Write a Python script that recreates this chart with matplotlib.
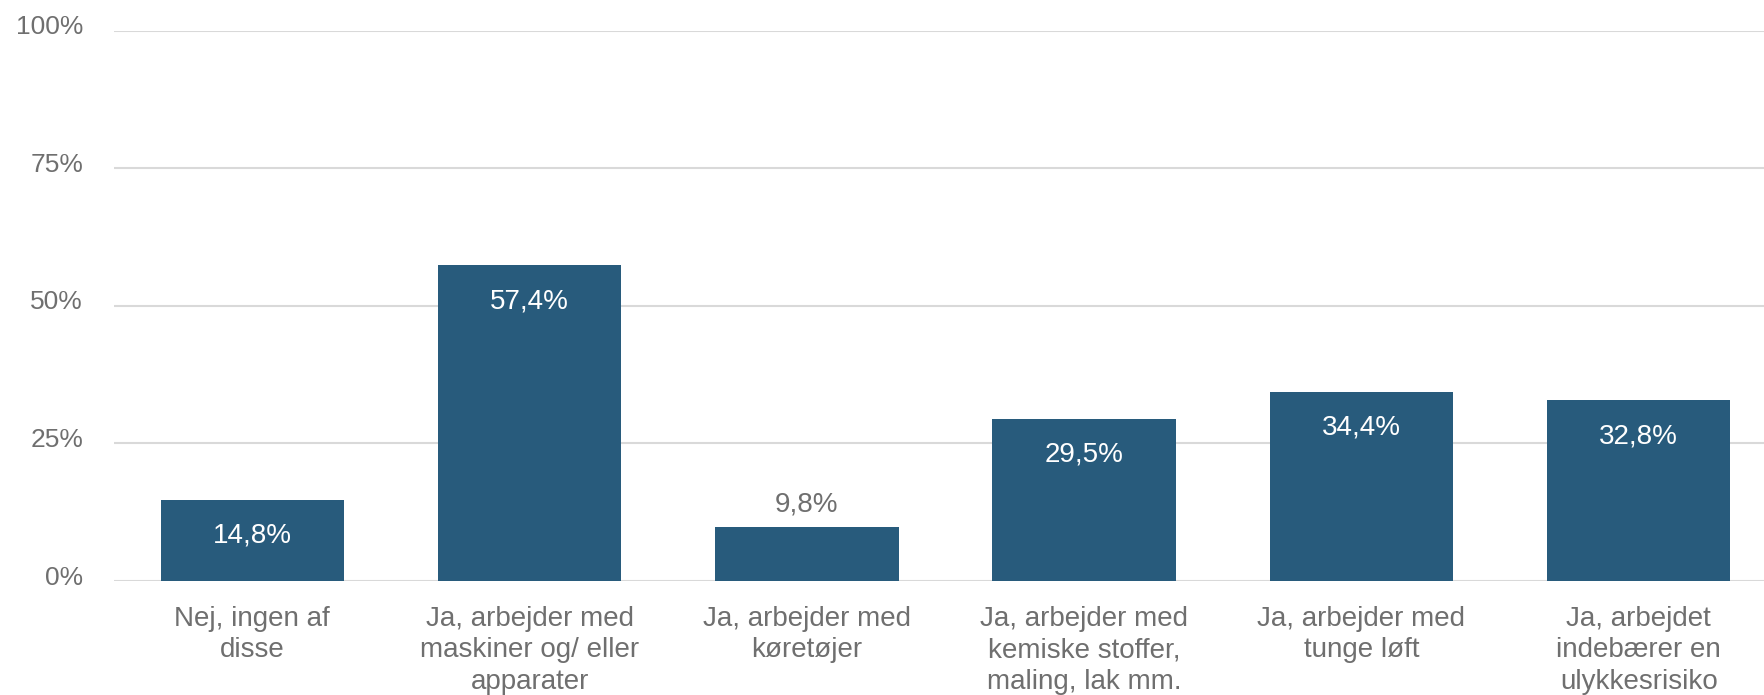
import matplotlib
matplotlib.use("Agg")
import matplotlib.pyplot as plt
import matplotlib.transforms as mtransforms

# data
categories = [
    "Nej, ingen af\ndisse",
    "Ja, arbejder med\nmaskiner og/ eller\napparater",
    "Ja, arbejder med\nkøretøjer",
    "Ja, arbejder med\nkemiske stoffer,\nmaling, lak mm.",
    "Ja, arbejder med\ntunge løft",
    "Ja, arbejdet\nindebærer en\nulykkesrisiko",
]
values = [14.8, 57.4, 9.8, 29.5, 34.4, 32.8]
y_ticks = [0, 25, 50, 75, 100]
y_tick_labels = ["0%", "25%", "50%", "75%", "100%"]

bar_color = "#285b7c"
text_gray = "#6f6f6f"
grid_gray = "#d9d9d9"

plt.rcParams["font.family"] = ["Liberation Sans", "DejaVu Sans"]

fig = plt.figure(figsize=(17.65, 6.95), dpi=100)
# axes runs a little past the right edge, like the reference
ax = fig.add_axes([0.0644, 0.164, 0.9426, 0.792])

x = list(range(len(categories)))
bars = ax.bar(x, values, width=0.662, color=bar_color, zorder=3)

ax.set_xlim(-0.5, len(categories) - 0.5)
ax.set_ylim(0, 100)
ax.set_yticks(y_ticks)
ax.set_yticklabels(y_tick_labels)
ax.set_xticks(x)
ax.set_xticklabels(categories, linespacing=1.27, fontsize=20)

for s in ax.spines.values():
    s.set_visible(False)
ax.yaxis.grid(True, color=grid_gray, linewidth=1.5, zorder=0)
ax.tick_params(axis="both", length=0, colors=text_gray)
ax.tick_params(axis="y", pad=22, labelsize=19)
ax.tick_params(axis="x", pad=18)

# y labels sit a bit above their gridlines
shift = mtransforms.ScaledTranslation(0, 6 / 100, fig.dpi_scale_trans)
for lab in ax.get_yticklabels():
    lab.set_transform(lab.get_transform() + shift)

for b, v in zip(bars, values):
    txt = f"{v:.1f}%".replace(".", ",")
    cx = b.get_x() + b.get_width() / 2
    if v < 12:
        ax.annotate(txt, (cx, v), xytext=(0, 16.5), textcoords="offset points",
                    ha="center", va="center", fontsize=20, color=text_gray)
    else:
        ax.annotate(txt, (cx, v), xytext=(0, -26), textcoords="offset points",
                    ha="center", va="center", fontsize=20, color="white")

fig.savefig("out.png", dpi=100)
